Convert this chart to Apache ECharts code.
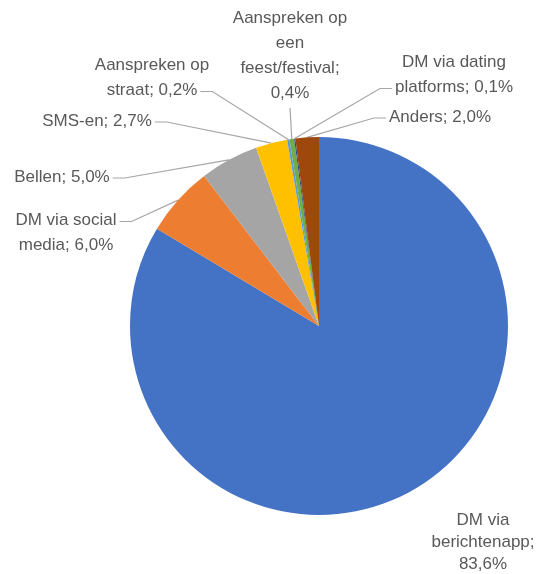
<!DOCTYPE html>
<html>
<head>
<meta charset="utf-8">
<script src="https://cdn.jsdelivr.net/npm/echarts@6/dist/echarts.min.js"></script>
<style>
  html, body { margin: 0; padding: 0; background: #fff; }
  #main { width: 544px; height: 574px; }
</style>
</head>
<body>
<div id="main"></div>
<script>
// categorieën en percentages (met de klok mee vanaf 12 uur)
var categories = [
  'DM via berichtenapp',
  'DM via social media',
  'Bellen',
  'SMS-en',
  'Aanspreken op straat',
  'Aanspreken op een feest/festival',
  'DM via dating platforms',
  'Anders'
];
var percentages = [83.6, 6.0, 5.0, 2.7, 0.2, 0.4, 0.1, 2.0];
var colors = ['#4472C4', '#ED7D31', '#A5A5A5', '#FFC000', '#5B9BD5', '#70AD47', '#264478', '#9E480E'];

// aantal woorden per regel in het label (zoals Excel het afbreekt)
var labelBreaks = [[2, 1, 1], [3, 2], [2], [2], [2, 2], [2, 1, 1, 1], [3, 2], [2]];
// label plaatsing (middelpunt van tekst)
var labelPos = [
  [483, 542], [66, 233], [62, 177], [97, 121],
  [152, 78], [290, 56], [454, 75], [440, 117]
];
// waar de leader line aan het label vastzit: [kant, regelnummer]
var labelAttach = [null, ['right', 0], ['right', 0], ['right', 0],
  ['right', 1], ['bottom', 3], ['left', 1], ['left', 0]];

var FONT_SIZE = 17;
var FONT = 'Liberation Sans';
var LINE_H = 25;

function wrapLabel(text, breaks) {
  var words = text.split(' ');
  var lines = [], k = 0;
  breaks.forEach(function (n) {
    lines.push(words.slice(k, k + n).join(' '));
    k += n;
  });
  if (k < words.length) lines.push(words.slice(k).join(' '));
  return lines.join('\n');
}

var measureCtx = document.createElement('canvas').getContext('2d');
measureCtx.font = FONT_SIZE + 'px "' + FONT + '"';

var chart = echarts.init(document.getElementById('main'));

var seriesData = categories.map(function (name, i) {
  return {
    name: name,
    value: percentages[i],
    itemStyle: { color: colors[i] },
    label: i === 0 ? { lineHeight: 22 } : {},
    labelLine: { show: i !== 0 }
  };
});

chart.setOption({
  backgroundColor: '#ffffff',
  animation: false,
  series: [{
    type: 'pie',
    center: [319, 326],
    radius: [0, 189],
    startAngle: 90,
    clockwise: true,
    avoidLabelOverlap: false,
    data: seriesData,
    itemStyle: { borderWidth: 0 },
    label: {
      show: true,
      position: 'outside',
      color: '#595959',
      fontFamily: FONT,
      fontSize: FONT_SIZE,
      lineHeight: LINE_H,
      align: 'center',
      formatter: function (p) {
        var txt = p.name + '; ' + p.value.toFixed(1).replace('.', ',') + '%';
        return wrapLabel(txt, labelBreaks[p.dataIndex]);
      }
    },
    labelLine: {
      show: true,
      length: 10,
      length2: 10,
      smooth: false,
      lineStyle: { color: '#A6A6A6', width: 1.2 }
    },
    labelLayout: function (params) {
      var i = params.dataIndex;
      var p = labelPos[i];
      var out = { x: p[0], y: p[1], align: 'center', verticalAlign: 'middle' };
      var att = labelAttach[i];
      if (att && params.labelLinePoints) {
        var lines = params.text.split('\n');
        var top = p[1] - lines.length * LINE_H / 2;
        var ly = top + LINE_H * (att[1] + 0.5) + 1;
        var w = measureCtx.measureText(lines[att[1]]).width;
        var anchor = params.labelLinePoints[0];
        var end, bend;
        if (att[0] === 'right') {
          end = [p[0] + w / 2 + 3, ly];
          bend = [end[0] + 12, ly];
        } else if (att[0] === 'left') {
          end = [p[0] - w / 2 - 3, ly];
          bend = [end[0] - 12, ly];
        } else {
          end = [p[0], top + lines.length * LINE_H + 2];
          bend = end;
        }
        out.labelLinePoints = [anchor, bend, end];
      }
      return out;
    }
  }]
});
</script>
</body>
</html>
